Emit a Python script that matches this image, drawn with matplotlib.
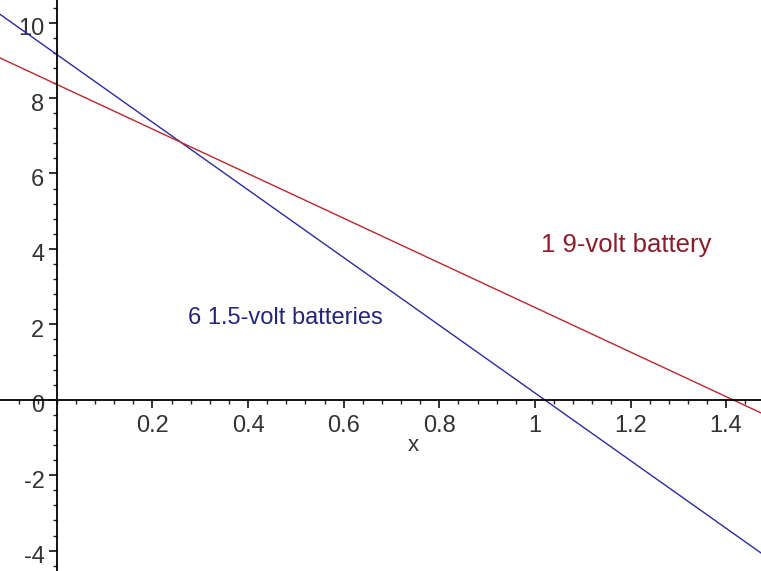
import matplotlib.pyplot as plt
from matplotlib.ticker import MultipleLocator, FixedLocator
from matplotlib.transforms import ScaledTranslation

# two end points per straight line
x_ends = [-0.12, 1.475]
six_aa = [10.23, -4.08]      # 6 1.5-volt batteries
one_9v = [9.07, -0.36]       # 1 9-volt battery

x_ticks = [0.2, 0.4, 0.6, 0.8, 1.0, 1.2, 1.4]
x_labels = ['0.2', '0.4', '0.6', '0.8', '1', '1.2', '1.4']
y_ticks = [-4, -2, 0, 2, 4, 6, 8, 10]
y_labels = ['-4', '-2', '0', '2', '4', '6', '8', '10']

blue = '#2b2b9a'
red = '#b8282e'
font = ['Liberation Sans', 'DejaVu Sans']

fig = plt.figure(figsize=(7.61, 5.71), dpi=100)
ax = fig.add_axes([0, 0, 1, 1])
ax.set_xlim(-0.119, 1.473)
ax.set_ylim(-4.54, 10.6)

ax.plot(x_ends, six_aa, color=blue, lw=1.0)
ax.plot(x_ends, one_9v, color=red, lw=1.0)

for s in ['top', 'right']:
    ax.spines[s].set_visible(False)
ax.spines['left'].set_position(('data', 0))
ax.spines['bottom'].set_position(('data', 0))
ax.spines['left'].set_linewidth(1.3)
ax.spines['bottom'].set_linewidth(1.3)

ax.xaxis.set_major_locator(FixedLocator(x_ticks))
ax.xaxis.set_minor_locator(MultipleLocator(0.04))
ax.yaxis.set_major_locator(FixedLocator(y_ticks))
ax.yaxis.set_minor_locator(MultipleLocator(0.4))
ax.set_xticklabels(x_labels)
ax.set_yticklabels(y_labels)
ax.tick_params(which='major', length=6, width=1.3, direction='out', color='#222222',
               labelsize=17, labelcolor='#333333', pad=3)
ax.tick_params(axis='x', which='major', pad=5)
ax.tick_params(which='minor', length=3, width=1.0, direction='out', color='#222222')
for lab in ax.get_xticklabels() + ax.get_yticklabels():
    lab.set_family(font)
# maple puts the y labels a little below their ticks
shift = ScaledTranslation(0, -4 / 100, fig.dpi_scale_trans)
for lab in ax.get_yticklabels():
    lab.set_transform(lab.get_transform() + shift)

ax.text(0.745, -1.2, 'x', fontsize=16, color='#333333', family=font, ha='center', va='center')
ax.text(0.479, 2.17, '6 1.5-volt batteries', fontsize=17, color='#24247a', family=font,
        ha='center', va='center')
ax.text(1.192, 4.1, '1 9-volt battery', fontsize=18.5, color='#8a1c2c', family=font,
        ha='center', va='center')

fig.savefig('out.png', dpi=100)
